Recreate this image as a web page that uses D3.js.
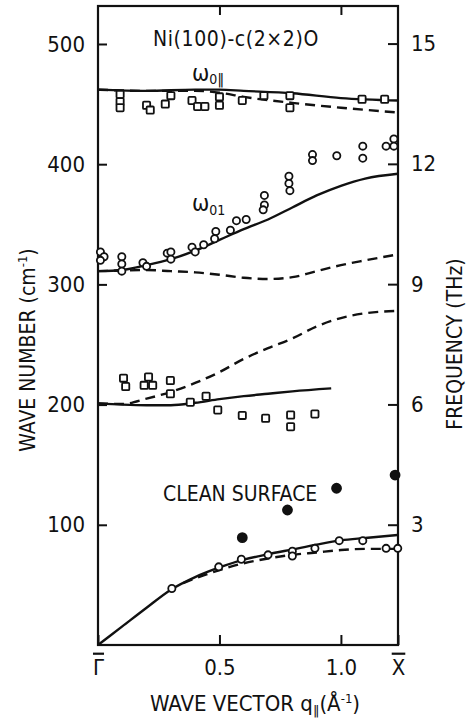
<!DOCTYPE html>
<html>
<head>
<meta charset="utf-8">
<script src="https://cdn.jsdelivr.net/npm/d3@7"></script>
<style>
  body { margin: 0; background: #fff; }
  text { font-family: "DejaVu Sans Condensed", "DejaVu Sans", sans-serif; fill: #111; }
  .par { font-family: "DejaVu Sans", sans-serif; }
</style>
</head>
<body>
<div id="chart"></div>
<script>
// dispersion curves (q in 1/A, wave number in cm-1)
var qOpar = [0, 0.2, 0.4, 0.5, 0.6, 0.8, 1.0, 1.235];
var oparSolid = [462, 461, 462, 462, 461, 459, 455, 453];
var oparDash = [462, 461, 461, 459.5, 456, 451, 447, 443];

var qOperp = [0, 0.1, 0.2, 0.3, 0.4, 0.5, 0.6, 0.7, 0.8, 0.9, 1.0, 1.1, 1.235];
var operpSolid = [311, 312, 316, 321, 328, 337, 346, 354, 364, 374, 382, 388, 392];
var operpDash = [311, 311.5, 312, 311, 310, 308, 305.5, 304.5, 306, 311, 316, 320, 325];

var qMid = [0, 0.1, 0.2, 0.3, 0.4, 0.5, 0.6, 0.7, 0.8, 0.96];
var midSolid = [201, 200, 199.5, 199.5, 201.5, 204.5, 207, 209, 211, 213.5];
var qMidDash = [0, 0.1, 0.2, 0.3, 0.4, 0.5, 0.6, 0.7, 0.8, 0.9, 1.0, 1.1, 1.235];
var midDash = [201, 200.5, 205, 210.5, 218, 227, 238, 247, 255, 265, 272, 276, 278];

var qLow = [0, 0.1, 0.2, 0.3, 0.4, 0.5, 0.6, 0.7, 0.8, 0.9, 1.0, 1.1, 1.235];
var lowSolid = [0, 15.5, 31, 46, 56.5, 64.5, 71, 75.5, 79.5, 83.5, 87, 89, 91.5];
var qLowDash = [0.35, 0.45, 0.6, 0.7, 0.8, 0.9, 1.0, 1.1, 1.235];
var lowDash = [51.5, 59, 68, 72, 75, 77, 79, 80, 80];

// measured points [q, wave number]
var squaresTop = [[0.091, 458], [0.091, 452], [0.091, 447], [0.20, 449], [0.215, 445],
  [0.277, 450], [0.30, 457], [0.387, 453], [0.41, 448], [0.44, 448], [0.50, 456], [0.50, 449],
  [0.594, 453], [0.683, 457], [0.79, 457], [0.79, 447], [1.087, 454], [1.18, 454]];
var circlesMid = [[0.01, 327], [0.025, 323], [0.01, 320], [0.098, 323], [0.098, 317], [0.098, 311],
  [0.185, 318], [0.20, 315], [0.285, 326], [0.30, 327], [0.30, 321], [0.387, 331], [0.40, 327],
  [0.435, 333], [0.485, 344], [0.48, 338], [0.545, 345], [0.57, 353], [0.61, 354],
  [0.685, 374], [0.685, 366], [0.68, 362], [0.786, 390], [0.786, 384], [0.79, 378],
  [0.883, 408], [0.883, 403], [0.983, 407], [1.09, 415], [1.09, 405],
  [1.186, 415], [1.218, 421], [1.218, 415]];
var squaresLow = [[0.105, 222], [0.114, 215], [0.208, 223], [0.19, 216], [0.225, 216],
  [0.298, 220], [0.298, 209], [0.38, 202], [0.445, 207], [0.493, 195.5], [0.594, 191],
  [0.69, 188.6], [0.793, 191.3], [0.793, 181.6], [0.893, 192.2]];
var circlesLow = [[0.304, 47], [0.497, 65], [0.59, 71.3], [0.70, 75], [0.80, 78], [0.80, 74],
  [0.893, 80.4], [0.993, 86.8], [1.09, 86.8], [1.186, 80.4], [1.234, 80.4]];
var cleanPts = [[0.594, 89.3], [0.78, 112.3], [0.982, 130.4], [1.223, 141.4]];

var yTicks = [100, 200, 300, 400, 500];
var fTicks = [3, 6, 9, 12, 15];
var xTicks = [0, 0.5, 1.0, 1.235];
var xTickLabels = ["\u0393", "0.5", "1.0", "X"];

var margin = {top: 6, right: 68, bottom: 74, left: 98},
    width = 466 - margin.left - margin.right,
    height = 719 - margin.top - margin.bottom;

var svg = d3.select("#chart")
    .append("svg")
    .attr("width", 466)
    .attr("height", 719)
    .append("g")
    .attr("transform", `translate(${margin.left},${margin.top})`);

var x = d3.scaleLinear().domain([0, 1.235]).range([0, width]);
var y = d3.scaleLinear().domain([0, 531.6]).range([height, 0]);
var yF = d3.scaleLinear().domain([0, 531.6 / 33.356]).range([height, 0]);

// axes, ticks pointing inside
var gLeft = svg.append("g")
    .call(d3.axisLeft(y).tickValues(yTicks).tickSize(-9).tickPadding(13));
var gRight = svg.append("g")
    .attr("transform", `translate(${width},0)`)
    .call(d3.axisRight(yF).tickValues(fTicks).tickSize(-10).tickPadding(13));
var gBottom = svg.append("g")
    .attr("transform", `translate(0,${height})`)
    .call(d3.axisBottom(x).tickValues(xTicks).tickSize(-10).tickPadding(14)
      .tickFormat((d, i) => xTickLabels[i]));
var gTop = svg.append("g")
    .call(d3.axisTop(x).tickValues([0.5, 1.0]).tickSize(-9).tickFormat(""));

[gLeft, gRight, gBottom, gTop].forEach(function(g) {
  g.select(".domain").remove();
  g.selectAll(".tick line").attr("stroke", "#111").attr("stroke-width", 2);
  g.selectAll("text").style("font-size", "22px").attr("fill", "#111");
});
// bars over the zone-boundary symbols
gBottom.selectAll(".tick text")
    .filter((d, i) => i === 0 || i === 3)
    .style("text-decoration", "overline");

svg.append("rect")
    .attr("width", width).attr("height", height)
    .attr("fill", "none").attr("stroke", "#111").attr("stroke-width", 2.2);

// curves
function curve(qs, vs, dashed) {
  var line = d3.line()
      .x((d, i) => x(qs[i]))
      .y(d => y(d))
      .curve(d3.curveMonotoneX);
  svg.append("path")
      .datum(vs)
      .attr("d", line)
      .attr("fill", "none")
      .attr("stroke", "#111")
      .attr("stroke-width", 2.4)
      .attr("stroke-dasharray", dashed ? "10,6" : null);
}
curve(qOpar, oparDash, true);
curve(qOpar, oparSolid, false);
curve(qOperp, operpDash, true);
curve(qOperp, operpSolid, false);
curve(qMidDash, midDash, true);
curve(qMid, midSolid, false);
curve(qLowDash, lowDash, true);
curve(qLow, lowSolid, false);

// markers
function squares(pts) {
  svg.append("g").selectAll("rect")
      .data(pts)
      .join("rect")
      .attr("x", d => x(d[0]) - 3.6)
      .attr("y", d => y(d[1]) - 3.6)
      .attr("width", 7.2).attr("height", 7.2)
      .attr("rx", 1)
      .attr("fill", "#fff").attr("stroke", "#111").attr("stroke-width", 1.8);
}
function circles(pts, filled) {
  svg.append("g").selectAll("circle")
      .data(pts)
      .join("circle")
      .attr("cx", d => x(d[0]))
      .attr("cy", d => y(d[1]))
      .attr("r", filled ? 4.5 : 3.6)
      .attr("fill", filled ? "#111" : "#fff")
      .attr("stroke", "#111").attr("stroke-width", 1.8);
}
squares(squaresTop);
squares(squaresLow);
circles(circlesMid, false);
circles(circlesLow, false);
circles(cleanPts, true);

// labels
svg.append("text").attr("x", 55).attr("y", 40)
    .style("font-size", "21px").style("letter-spacing", "0.6px")
    .text("Ni(100)-c(2\u00d72)O");

var w1 = svg.append("text").attr("x", 94).attr("y", 75).style("font-size", "23px");
w1.append("tspan").text("\u03c9");
w1.append("tspan").attr("dy", 3).style("font-size", "14px").text("0");
w1.append("tspan").attr("class", "par").style("font-size", "14px").text("\u2016");

var w2 = svg.append("text").attr("x", 94).attr("y", 205).style("font-size", "23px");
w2.append("tspan").text("\u03c9");
w2.append("tspan").attr("dy", 4).style("font-size", "14px").text("01");

svg.append("text").attr("x", 65).attr("y", 495)
    .style("font-size", "21px").text("CLEAN SURFACE");

var yl = svg.append("text")
    .attr("transform", `translate(${35 - margin.left},${350 - margin.top}) rotate(-90)`)
    .attr("text-anchor", "middle").style("font-size", "21px");
yl.append("tspan").text("WAVE NUMBER (cm");
yl.append("tspan").attr("dy", -8).style("font-size", "13px").text("-1");
yl.append("tspan").attr("dy", 8).text(")");

svg.append("text")
    .attr("transform", `translate(${462 - margin.left},${344 - margin.top}) rotate(-90)`)
    .attr("text-anchor", "middle").style("font-size", "21px")
    .text("FREQUENCY (THz)");

var xl = svg.append("text")
    .attr("x", 255 - margin.left).attr("y", 711 - margin.top)
    .attr("text-anchor", "middle").style("font-size", "22px");
xl.append("tspan").text("WAVE VECTOR q");
xl.append("tspan").attr("dy", 4).attr("class", "par").style("font-size", "13px").text("\u2016");
xl.append("tspan").attr("dy", -4).text("(\u00c5");
xl.append("tspan").attr("dy", -8).style("font-size", "13px").text("-1");
xl.append("tspan").attr("dy", 8).text(")");
</script>
</body>
</html>
